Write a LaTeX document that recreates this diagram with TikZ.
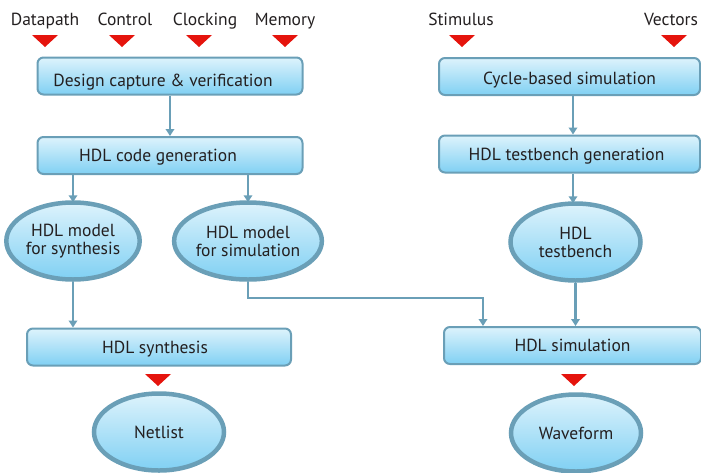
\documentclass[tikz,border=0pt]{standalone}
\usepackage{fontspec}
\setmainfont{PT Sans}
\usetikzlibrary{shapes.geometric,arrows.meta}
\definecolor{edgec}{HTML}{6A9FB7}
\definecolor{boxtop}{HTML}{DDF3FC}
\definecolor{boxbot}{HTML}{80D0F3}
\definecolor{redtri}{HTML}{E5140D}
\definecolor{txt}{HTML}{231F20}
\tikzset{
  box/.style={draw=edgec, line width=2pt, rounded corners=6pt, top color=boxtop, bottom color=boxbot,
    minimum height=37pt, inner sep=0pt, font=\fontsize{17.5}{18}\selectfont, text=txt,
    text height=12.2pt, text depth=0pt},
  oval/.style={ellipse, draw=edgec, line width=4.5pt, top color=boxtop, bottom color=boxbot,
    minimum width=130pt, minimum height=77pt, inner sep=0pt, align=center,
    font=\fontsize{17.5}{18}\selectfont, text=txt},
  lbl/.style={font=\fontsize{17.5}{18}\selectfont, text=txt, inner sep=0pt,
    text height=12.2pt, text depth=0pt},
  arr/.style={draw=edgec, line width=2.2pt, -{Triangle[length=7pt,width=8.5pt]}},
}
\begin{document}
\begin{tikzpicture}[x=1pt,y=-1pt]
\useasboundingbox (0,0) rectangle (701,472);
\clip (0,0) rectangle (701,472);
% top labels
\node[lbl] (l1) at (45,19.5) {Datapath};
\node[lbl] (l2) at (125,19.5) {Control};
\node[lbl] (l3) at (205,19.5) {Clocking};
\node[lbl] (l4) at (285,19.5) {Memory};
\node[lbl] (l5) at (461,19.5) {Stimulus};
\node[lbl] (l6) at (671,19.5) {Vectors};
% red triangles
\foreach \x/\y in {45/35,122/35,199/35,285/35,462/35,674/35,158/374,574/374}
  \fill[redtri] (\x-13,\y) -- (\x+13,\y) -- (\x,\y+12) -- cycle;
% boxes
\node[box, minimum width=265pt] (dc) at (170,76) {\hspace*{-14pt}\raisebox{-4pt}{Design capture \& verification}};
\node[box, minimum width=261pt] (cbs) at (569.5,76.5) {\raisebox{-1.5pt}{Cycle-based simulation}};
\node[box, minimum width=265pt] (cg) at (170,155.5) {\hspace*{-24pt}HDL code generation};
\node[box, minimum width=261pt] (tbg) at (569.5,154) {\hspace*{-6pt}HDL testbench generation};
\node[box, minimum width=264pt] (syn) at (159,347) {\hspace*{-8pt}HDL synthesis};
\node[box, minimum width=257pt] (sim) at (572.5,345.5) {HDL simulation};
% ellipses
\node[oval] (mfsyn) at (73,241) {HDL model\\for synthesis};
\node[oval] (mfsim) at (248,241) {HDL model\\for simulation};
\node[oval] (tb) at (575.5,242) {HDL\\testbench};
\node[oval] (net) at (159,432) {Netlist};
\node[oval] (wav) at (576,433) {Waveform};
% connectors
\draw[arr] (dc.south) -- (cg.north);
\draw[arr] ([xshift=3.5pt]cbs.south) -- ([xshift=3.5pt]tbg.north);
\draw[arr] (cg.south -| mfsyn.north) -- ([yshift=-2pt]mfsyn.north);
\draw[arr] (cg.south -| mfsim.north) -- ([yshift=-2pt]mfsim.north);
\draw[arr] ([xshift=3.5pt]tbg.south) -- ([xshift=3.5pt,yshift=-2pt]tbg.south |- tb.north);
\draw[arr] (mfsyn.south) -- (mfsyn.south |- syn.north);
\draw[arr] (tb.south) -- (tb.south |- sim.north);
\draw[arr] (mfsim.south) -- ++(0,16) -| ([xshift=40pt]sim.north west);
\end{tikzpicture}
\end{document}
